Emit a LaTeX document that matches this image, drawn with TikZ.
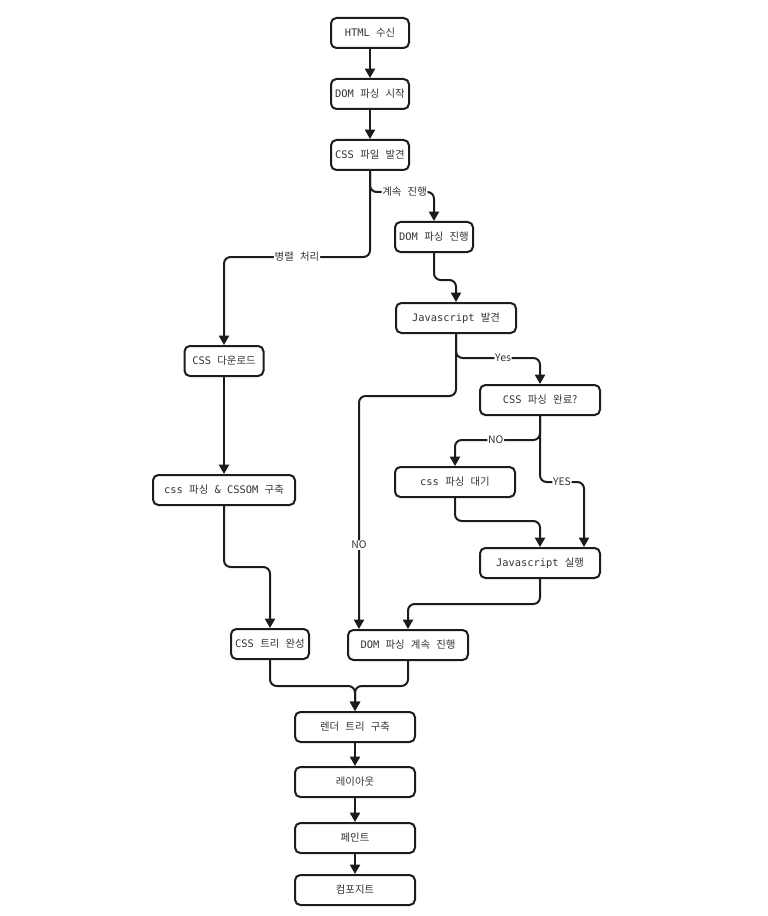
\documentclass[tikz,border=0pt]{standalone}
\usepackage{fontspec}
\setmainfont{Noto Sans CJK KR}
\newfontfamily\mono{DejaVu Sans Mono}
\usetikzlibrary{arrows.meta,calc}
\definecolor{ink}{HTML}{1C1C1C}
\definecolor{txt}{HTML}{333333}
\newcommand{\ms}{{\mono\space}}
\begin{document}
\begin{tikzpicture}[x=0.75pt,y=-0.75pt,
  box/.style={draw=ink, line width=1.5pt, rounded corners=4pt, fill=white,
    minimum height=22.5pt, inner sep=0pt, text=txt, font=\fontsize{7.8}{9}\selectfont},
  boxw/.style={minimum width=#1*0.75pt},
  edge/.style={draw=ink, line width=1.5pt, rounded corners=5pt,
    -{Triangle[length=7pt,width=7.5pt]}},
  lbl/.style={fill=white, inner sep=0.6pt, text=txt, font=\fontsize{7.8}{9}\selectfont}]
\useasboundingbox (0,0) rectangle (767,916);

% nodes
\node[box, boxw=78]  (html)     at (370,33)  {{\mono HTML}\ms 수신};
\node[box, boxw=78]  (domstart) at (370,94)  {{\mono DOM}\ms 파싱\ms 시작};
\node[box, boxw=78]  (cssfile)  at (370,155) {{\mono CSS}\ms 파일\ms 발견};
\node[box, boxw=78]  (domprog)  at (434,237) {{\mono DOM}\ms 파싱\ms 진행};
\node[box, boxw=120] (jsfind)   at (456,318) {{\mono Javascript}\ms 발견};
\node[box, boxw=120] (cpc)      at (540,400) {{\mono CSS}\ms 파싱\ms 완료?};
\node[box, boxw=120] (cwait)    at (455,482) {{\mono css}\ms 파싱\ms 대기};
\node[box, boxw=120] (jsrun)    at (540,563) {{\mono Javascript}\ms 실행};
\node[box, boxw=79]  (cssdl)    at (224,361) {{\mono CSS}\ms 다운로드};
\node[box, boxw=142] (cssom)    at (224,490) {{\mono css}\ms 파싱\ms{\mono \&}\ms{\mono CSSOM}\ms 구축};
\node[box, boxw=78]  (csstree)  at (270,644) {{\mono CSS}\ms 트리\ms 완성};
\node[box, boxw=120] (domcont)  at (408,645) {{\mono DOM}\ms 파싱\ms 계속\ms 진행};
\node[box, boxw=120] (render)   at (355,727) {렌더\ms 트리\ms 구축};
\node[box, boxw=120] (layout)   at (355,782) {레이아웃};
\node[box, boxw=120] (paint)    at (355,838) {페인트};
\node[box, boxw=120] (comp)     at (355,890) {컴포지트};

\coordinate (noin)  at ($(domcont.north west)+(12,0)$);
\coordinate (yesin) at ($(jsrun.north east)+(-17,0)$);

% edges
\draw[edge] (html) -- (domstart);
\draw[edge] (domstart) -- (cssfile);
\draw[edge] (cssfile.south) |- node[lbl, pos=0.77]{계속\ms 진행} ($(domprog.north)+(0,-29)$) -- (domprog.north);
\draw[edge] (cssfile.south) |- node[lbl, pos=0.75]{병렬\ms 처리} ($(cssdl.north)+(0,-88)$) -- (cssdl.north);
\draw[edge] (domprog.south) -- (domprog.south |- 0,280) -| (jsfind.north);
\draw[edge] (jsfind.south) |- node[lbl, pos=0.78]{Yes} ($(cpc.north)+(0,-26)$) -- (cpc.north);
\draw[edge] (jsfind.south) |- (noin |- 0,396) -- node[lbl, pos=0.64]{NO} (noin);
\draw[edge] (cpc.south) |- node[lbl, pos=0.76]{NO} ($(cwait.north)+(0,-26)$) -- (cwait.north);
\draw[edge] (cpc.south) |- node[lbl, pos=0.75]{YES} (yesin |- 0,482) -- (yesin);
\draw[edge] (cwait.south) -- (cwait.south |- 0,521) -| (jsrun.north);
\draw[edge] (jsrun.south) -- (jsrun.south |- 0,604) -| (domcont.north);
\draw[edge] (cssdl) -- (cssom);
\draw[edge] (cssom.south) -- (cssom.south |- 0,567) -| (csstree.north);
\draw[edge] (csstree.south) -- (csstree.south |- 0,686) -| (render.north);
\draw[edge] (domcont.south) -- (domcont.south |- 0,686) -| (render.north);
\draw[edge] (render) -- (layout);
\draw[edge] (layout) -- (paint);
\draw[edge] (paint) -- (comp);
\end{tikzpicture}
\end{document}
